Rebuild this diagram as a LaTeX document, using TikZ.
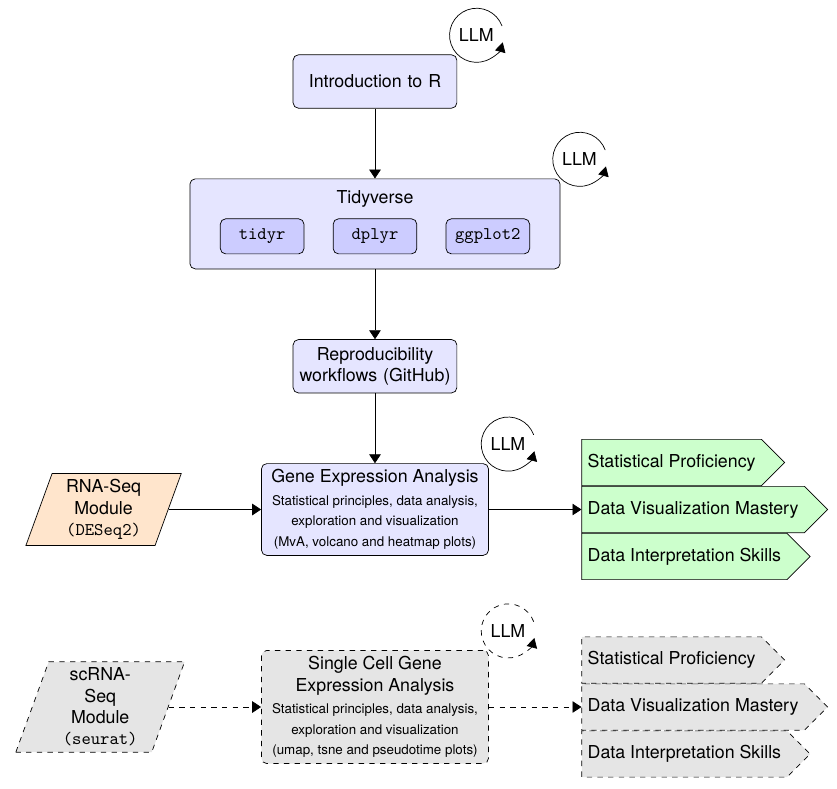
\documentclass[tikz,border=0pt]{standalone}
\usepackage{fontspec}
\setmainfont{TeX Gyre Heros}
\usetikzlibrary{positioning,shapes.geometric,shapes.symbols,arrows.meta}
\colorlet{washedblue}{blue!10}
\colorlet{pkgblue}{blue!20}
\colorlet{skillgreen}{green!20}
\colorlet{inputorange}{orange!20}
\colorlet{futuregray}{gray!20}
\tikzstyle{mainbox} = [
    draw,
    fill=washedblue,
    rounded corners=3pt,
    align=center,
    text width=3cm,
    minimum height=30pt
    ]
\tikzstyle{groupbox} = [
    draw,
    fill=washedblue,
    rounded corners=3pt,
    minimum width=208pt,
    minimum height=50.6pt
    ]
\tikzstyle{pkgbox} = [
    draw,
    fill=pkgblue,
    rounded corners=3pt,
    font=\ttfamily,
    minimum width=47pt,
    minimum height=19.7pt
    ]
\tikzstyle{topicbox} = [
    draw,
    fill=washedblue,
    rounded corners=3pt
    ]
\tikzstyle{inputbox} = [
    draw,
    trapezium,
    trapezium left angle=70,
    trapezium right angle=110,
    fill=inputorange,
    text width=1.8cm,
    align=center
    ]
\tikzstyle{skill} = [
    draw,
    signal,
    signal to=east,
    fill=skillgreen,
    minimum height=26pt
    ]
\tikzstyle{future} = [dashed, fill=futuregray]
\tikzstyle{llm} = [circle, minimum size=30.4pt, inner sep=0pt]
\tikzstyle{arr} = [-{Triangle[width=6.5pt,length=5pt]}]
\tikzstyle{llmloop} = [-{Triangle[width=6pt,length=5.5pt]}]
\newcommand{\topictext}[2]{% title and small lines
\begin{minipage}{4.25cm}\centering #1\\[1pt]
{\fontsize{7.5}{11.6}\selectfont #2\par}
\end{minipage}}
\begin{document}
\begin{tikzpicture}
\useasboundingbox (-210.7pt,-397.5pt) rectangle (259.6pt,45.8pt);

% main track
\node[mainbox] (intro) at (0,0) {Introduction to R};
\node[groupbox, below=39.3pt of intro] (tidy) {};
\node[below=3pt of tidy.north] (tidytitle) {Tidyverse};
\node[pkgbox] (dplyr) at ([yshift=-7pt]tidy.center) {dplyr};
\node[pkgbox, left=16pt of dplyr] (tidyr) {tidyr};
\node[pkgbox, right=16pt of dplyr] (ggplot) {ggplot2};
\node[mainbox, below=39.3pt of tidy] (repro) {Reproducibility workflows (GitHub)};
\node[topicbox, below=39.3pt of repro] (gene) {\topictext{Gene Expression Analysis}{Statistical principles, data analysis,\\ exploration and visualization\\ (MvA, volcano and heatmap plots)}};
\node[inputbox, left=52pt of gene] (rna) {RNA-Seq Module \texttt{(DESeq2)}};
\node[skill, right=52pt of gene] (skill2) {Data Visualization Mastery};
\node[skill, anchor=south west] (skill1) at (skill2.north west) {Statistical Proficiency};
\node[skill, anchor=north west] (skill3) at (skill2.south west) {Data Interpretation Skills};

% single cell track
\node[topicbox, future, below=53pt of gene] (scgene) {\topictext{Single Cell Gene Expression Analysis}{Statistical principles, data analysis,\\ exploration and visualization\\ (umap, tsne and pseudotime plots)}};
\node[inputbox, future, left=52pt of scgene] (scrna) {scRNA-Seq Module \texttt{(seurat)}};
\node[skill, future, right=52pt of scgene] (scskill2) {Data Visualization Mastery};
\node[skill, future, anchor=south west] (scskill1) at (scskill2.north west) {Statistical Proficiency};
\node[skill, future, anchor=north west] (scskill3) at (scskill2.south west) {Data Interpretation Skills};

% LLM loops
\node[llm] (llm1) at ([shift={(10.7pt,10.7pt)}]intro.north east) {LLM};
\node[llm] (llm2) at ([shift={(10.7pt,10.7pt)}]tidy.north east) {LLM};
\node[llm] (llm3) at ([shift={(10.7pt,10.7pt)}]gene.north east) {LLM};
\node[llm] (llm4) at ([shift={(10.7pt,10.7pt)}]scgene.north east) {LLM};
\draw[llmloop] (llm1.20) arc[start angle=20, end angle=345, radius=15.2pt];
\draw[llmloop] (llm2.20) arc[start angle=20, end angle=345, radius=15.2pt];
\draw[llmloop] (llm3.20) arc[start angle=20, end angle=345, radius=15.2pt];
\draw[llmloop, dashed] (llm4.20) arc[start angle=20, end angle=345, radius=15.2pt];

% connectors
\draw[arr] (intro) -- (tidy);
\draw[arr] (tidy) -- (repro);
\draw[arr] (repro) -- (gene);
\draw[arr] (rna.east) -- (gene.west);
\draw[arr] (gene.east) -- (skill2.west);
\draw[arr, dashed] (scrna.east) -- (scgene.west);
\draw[arr, dashed] (scgene.east) -- (scskill2.west);
\end{tikzpicture}
\end{document}
